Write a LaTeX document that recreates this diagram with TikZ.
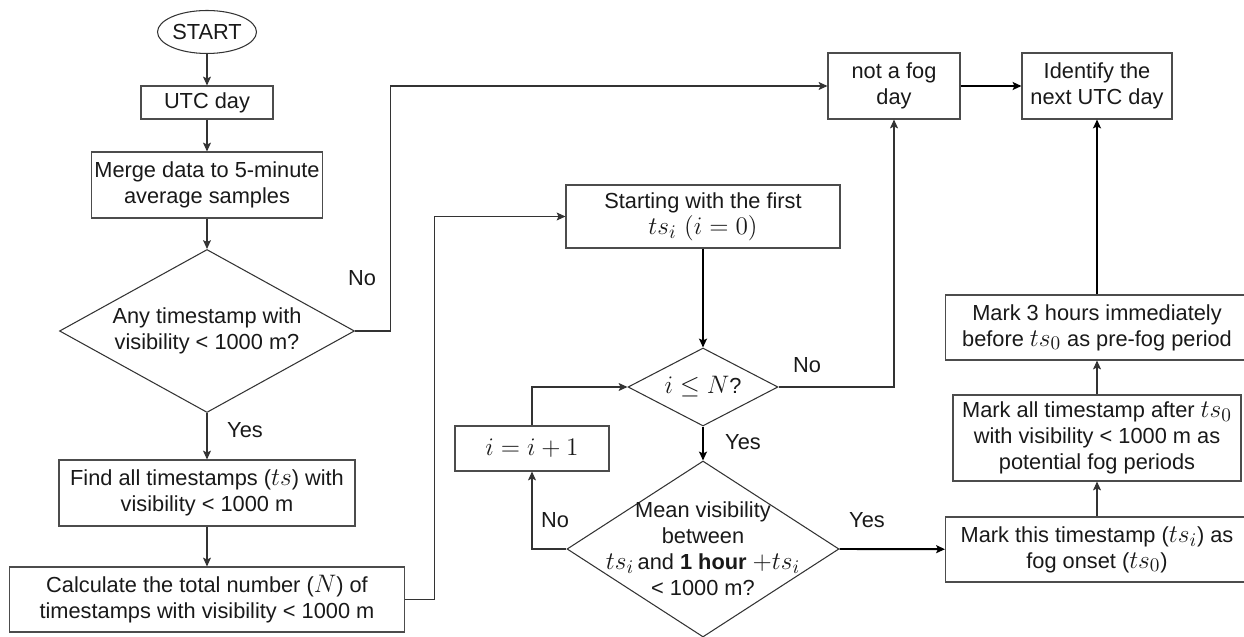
\documentclass[tikz,border=0pt]{standalone}
\usepackage{fontspec}
\setmainfont{Liberation Sans}
\usetikzlibrary{positioning, arrows.meta, shapes.geometric}

% math in the boxes is set a bit larger than the text
\newcommand{\vmath}[1]{{\fontsize{15.5}{15}\selectfont$#1$}}

\begin{document}
\begin{tikzpicture}[font=\fontsize{12.4}{14.8}\selectfont,
        every node/.style={align=center, text=black!90},
        box/.style n args={2}{draw=black!70, line width=0.6pt, inner sep=1pt, minimum width=#1, minimum height=#2},
        decision/.style n args={3}{diamond, draw=black!80, line width=0.6pt, inner sep=0pt, shape aspect=#3, minimum width=#1, minimum height=#2},
        terminal/.style={ellipse, draw=black!80, line width=0.6pt, inner sep=0pt, minimum width=1.98cm, minimum height=0.86cm},
        arrow/.style={-{Stealth[length=5pt, width=4.5pt, inset=1pt]}, draw=black!80, line width=0.6pt},
        bold/.style={arrow, draw=black, line width=1.1pt}]

        \useasboundingbox (0,0) rectangle (24.88,-12.74);

        % left column
        \node[terminal] (start) at (4.14,-0.64) {START};
        \node[box={2.64cm}{0.66cm}] (utcday) at (4.14,-2.05) {UTC day};
        \node[box={4.62cm}{1.32cm}] (merge) at (4.14,-3.70) {Merge data to 5-minute\\average samples};
        \node[decision={5.90cm}{3.26cm}{1.8}] (anyvis) at (4.14,-6.62) {Any timestamp with\\visibility < 1000 m?};
        \node[box={5.92cm}{1.32cm}] (findts) at (4.14,-9.86) {Find all timestamps (\vmath{ts}) with\\visibility < 1000 m};
        \node[box={7.90cm}{1.30cm}] (countN) at (4.14,-11.99) {Calculate the total number (\vmath{N}) of\\timestamps with visibility < 1000 m};

        % loop over the timestamps
        \node[box={5.48cm}{1.26cm}] (firstts) at (14.06,-4.33) {Starting with the first\\\vmath{ts_i\ (i=0)}};
        \node[decision={3.00cm}{1.56cm}{1.9}] (iN) at (14.06,-7.74) {\vmath{i\le N}?};
        \node[box={3.08cm}{0.90cm}] (incr) at (10.64,-8.97) {\vmath{i=i+1}};
        \node[decision={5.44cm}{3.52cm}{1.55}] (meanvis) at (14.06,-10.98) {};
        \node (meanvistxt) at (meanvis) {Mean visibility\\between\\\vmath{ts_i}\,and \textbf{1 hour} \vmath{+ts_i}\\< 1000 m?};

        % right column
        \node[box={2.64cm}{1.32cm}] (notfog) at (17.88,-1.72) {not a fog\\day};
        \node[box={3.00cm}{1.32cm}] (nextday) at (21.94,-1.72) {Identify the\\next UTC day};
        \node[box={6.06cm}{1.30cm}] (prefog) at (21.94,-6.55) {Mark 3 hours immediately\\before \vmath{ts_0} as pre-fog period};
        \node[box={5.76cm}{1.72cm}] (fogperiods) at (21.94,-8.76) {Mark all timestamp after \vmath{ts_0}\\with visibility < 1000 m as\\potential fog periods};
        \node[box={6.06cm}{1.30cm}] (onset) at (21.94,-10.99) {Mark this timestamp (\vmath{ts_i}) as\\fog onset (\vmath{ts_0})};

        % branch labels
        \node (no1)  at (7.24,-5.56)   {No};
        \node (yes1) at (4.90,-8.60)   {Yes};
        \node (no2)  at (16.14,-7.30)  {No};
        \node (yes2) at (14.86,-8.84)  {Yes};
        \node (no3)  at (11.10,-10.40) {No};
        \node (yes3) at (17.34,-10.40) {Yes};

        % connectors
        \draw[arrow] (start) -- (utcday);
        \draw[arrow] (utcday) -- (merge);
        \draw[arrow] (merge) -- (anyvis);
        \draw[arrow] (anyvis) -- (findts);
        \draw[arrow] (findts) -- (countN);
        \draw[arrow] (anyvis.east) -- ++(0.70,0) |- (notfog);
        \draw[arrow] (countN.east) -- ++(0.58,0) |- (firstts);
        \draw[bold]  (firstts) -- (iN);
        \draw[bold]  (iN) -- (meanvis);
        \draw[arrow] (iN.east) -| (notfog);
        \draw[arrow] (meanvis.west) -| (incr);
        \draw[arrow] (incr) |- (iN.west);
        \draw[bold]  (meanvis.east) -- (onset);
        \draw[arrow] (onset) -- (fogperiods);
        \draw[arrow] (fogperiods) -- (prefog);
        \draw[bold]  (prefog) -- (nextday);
        \draw[bold]  (notfog) -- (nextday);
    \end{tikzpicture}
\end{document}
